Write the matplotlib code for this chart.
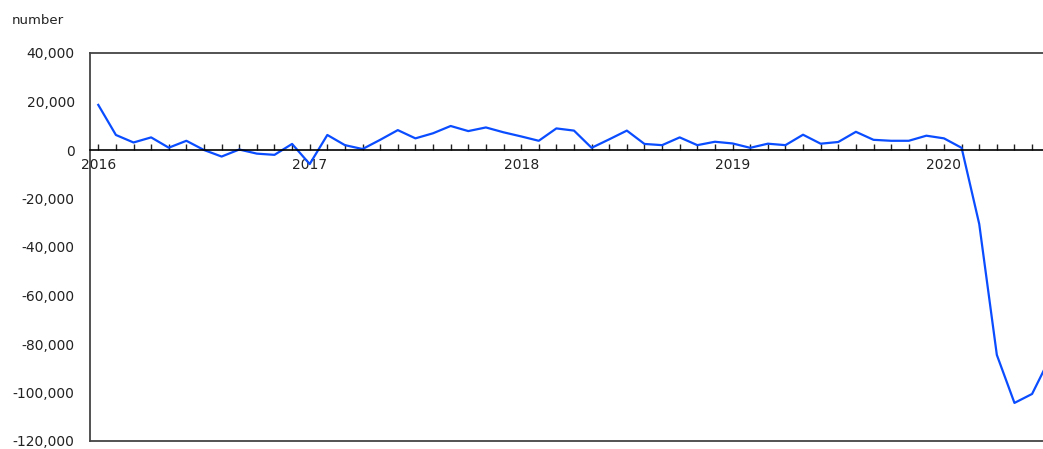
import numpy as np
import matplotlib
matplotlib.use("Agg")
import matplotlib.pyplot as plt
from matplotlib.ticker import FuncFormatter, MultipleLocator

# monthly change, Jan 2016 .. Jul 2020
months = np.arange(55)
change = [18600, 6200, 3100, 5200, 950, 3800, 0, -2700, 200, -1500, -2000, 2500,
          -5800, 6200, 2000, 400, 4200, 8200, 4800, 6900, 9900, 7800, 9300, 7300,
          5600, 3800, 8900, 8000, 900, 4400, 8000, 2500, 2000, 5200, 2000, 3400,
          2700, 900, 2600, 2000, 6300, 2600, 3300, 7500, 4200, 3800, 3800, 5900,
          4800, 900, -30500, -84500, -104300, -100600, -86000]
year_pos = [0, 12, 24, 36, 48]
year_labels = ["2016", "2017", "2018", "2019", "2020"]

fig = plt.figure(figsize=(10.43, 4.49), dpi=100)
ax = fig.add_axes([90 / 1043, 8 / 449, 953 / 1043, 388 / 449])

ax.plot(months, change, color="#0a4cff", lw=1.6)

ax.set_xlim(-0.47, 53.62)
ax.set_ylim(-120000, 40000)

ax.set_yticks(np.arange(-120000, 40001, 20000))
ax.yaxis.set_major_formatter(FuncFormatter(lambda v, p: f"{int(v):,}"))
ax.tick_params(axis="y", length=0, pad=11, labelsize=10, colors="#222222")

# x axis drawn on the zero line, ticks pointing up
ax.spines["bottom"].set_position(("data", 0))
ax.spines["bottom"].set_linewidth(1.2)
ax.set_xticks(year_pos)
ax.set_xticklabels(year_labels)
ax.xaxis.set_minor_locator(MultipleLocator(1))
ax.tick_params(axis="x", which="both", direction="in", length=4, width=1,
               pad=6, labelsize=10, colors="#222222")

for s in ["left", "top"]:
    ax.spines[s].set_color("#444444")
    ax.spines[s].set_linewidth(1.3)
ax.spines["right"].set_visible(False)
ax.axhline(-120000, color="#444444", lw=1.3, clip_on=False)

fig.text(12 / 1043, 1 - 21 / 449, "number", fontsize=9.5, va="center",
         ha="left", color="#222222")

fig.savefig("out.png", dpi=100)
